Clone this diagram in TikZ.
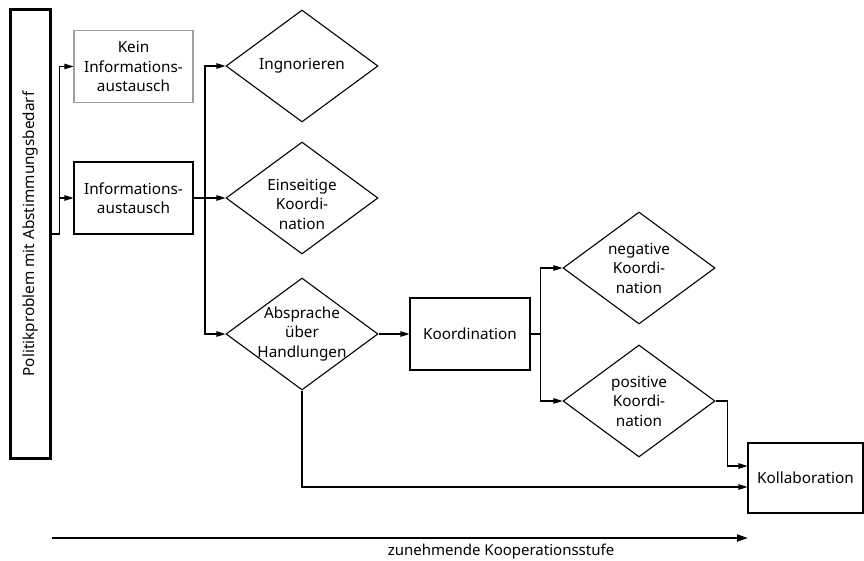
\documentclass[tikz,border=0pt]{standalone}
\usepackage{fontspec}
\setmainfont{Noto Sans}
\usetikzlibrary{shapes.geometric,arrows.meta}
\begin{document}
\begin{tikzpicture}[x=1pt,y=-1pt,
  txt/.style={font=\fontsize{15.3}{19.5}\selectfont, align=center},
  box/.style={draw, line width=1.1pt, inner sep=0pt, minimum width=119pt, minimum height=72pt, txt},
  dia/.style={draw, diamond, line width=1.1pt, inner sep=0pt, minimum width=152pt, minimum height=112pt},
  conn/.style={line width=1.1pt, -{Triangle[length=9pt,width=5.5pt]}},
  progress/.style={line width=2pt, -{Triangle[length=11pt,width=7pt]}}]
\useasboundingbox (0,0) rectangle (864,561);

% starting point: the policy problem
\node[draw, line width=3pt, minimum width=40pt, minimum height=448pt, inner sep=0pt] (pol) at (30,234) {};
\node[txt, rotate=90] (polT) at (pol.center) {Politikproblem mit Abstimmungsbedarf};

% information exchange
\node[box, draw=gray!75] (kein) at (133.5,66.5) {Kein\\Informations-\\austausch};
\node[box] (info) at (133.5,198) {Informations-\\austausch};

% reactions
\node[dia] (ign) at (302,66) {};
\node[txt] (ignT) at (ign.center) {Ingnorieren};
\node[dia] (ein) at (302,198) {};
\node[txt] (einT) at ([yshift=-6pt]ein.center) {Einseitige\\Koordi-\\nation};
\node[dia] (abs) at (302,334) {};
\node[txt] (absT) at (abs.center) {Absprache\\über\\Handlungen};

% coordination
\node[box, minimum width=120pt] (koord) at (470,334) {Koordination};
\node[dia] (neg) at (639,268) {};
\node[txt] (negT) at (neg.center) {negative\\Koordi-\\nation};
\node[dia] (pos) at (639,401) {};
\node[txt] (posT) at (pos.center) {positive\\Koordi-\\nation};
\node[box, minimum width=115pt, minimum height=70pt] (kol) at (805.5,478) {Kollaboration};

% connectors
\coordinate (j1) at ([xshift=8pt]pol.east);
\draw[line width=1.1pt] (pol.east) -- (j1);
\draw[conn] (j1) |- (kein.west);
\draw[conn] (j1) |- (info.west);

\draw[conn] (info.east) -- (ein.west);
\coordinate (j2) at (205,198);
\draw[conn] (j2) |- (ign.west);
\draw[conn] (j2) |- (abs.west);

\draw[conn] (abs.east) -- (koord.west);
\coordinate (j3) at ([xshift=10pt]koord.east);
\draw[line width=1.1pt] (koord.east) -- (j3);
\draw[conn] (j3) |- (neg.west);
\draw[conn] (j3) |- (pos.west);

\draw[conn] (pos.east) -- ++(12,0) |- ([yshift=12pt]kol.west);
\draw[conn] (abs.south) |- ([yshift=-9pt]kol.west);

% axis of increasing cooperation
\coordinate (axS) at (52,538);
\coordinate (axE) at (748,538);
\draw[progress] (axS) -- (axE);
\node[font=\fontsize{15}{17}\selectfont] (axL) at (501,552) {zunehmende Kooperationsstufe};
\end{tikzpicture}
\end{document}
